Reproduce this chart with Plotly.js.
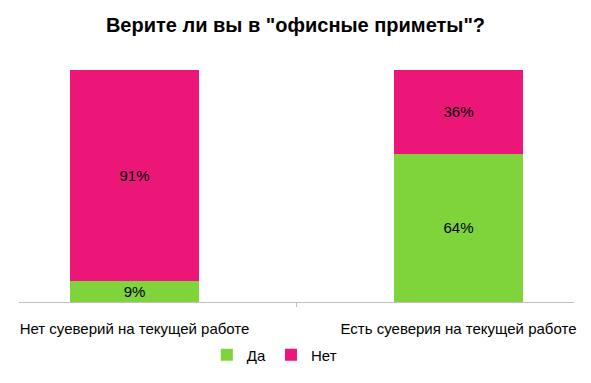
<!DOCTYPE html>
<html><head><meta charset="utf-8">
<script src="https://cdn.plot.ly/plotly-3.0.1.min.js"></script>
<style>html,body{margin:0;padding:0;background:#fff}#c{width:591px;height:383px}</style>
</head><body><div id="c"></div>
<script>
const categories = ["Нет суеверий на текущей работе", "Есть суеверия на текущей работе"];
const yesValues = [9, 64];
const noValues = [91, 36];
const seriesNames = ["Да", "Нет"];
const titleText = 'Верите ли вы в "офисные приметы"?';

const font = "Liberation Sans, Arial, sans-serif";
const xIdx = categories.map((c, i) => i);
function trace(name, vals, color) {
  return {
    type: "bar", name: name, x: xIdx, y: vals,
    marker: {color: color},
    text: vals.map(v => v + "%"), textposition: "inside", insidetextanchor: "middle",
    textfont: {color: "#000", size: 15, family: font}, constraintext: "none",
    width: 0.398, hoverinfo: "skip"
  };
}
const data = [trace(seriesNames[0], yesValues, "#7fd33b"), trace(seriesNames[1], noValues, "#ec1679")];
const layout = {
  width: 591, height: 383, barmode: "stack",
  margin: {l: 19, r: 17, t: 70, b: 81},
  paper_bgcolor: "#fff", plot_bgcolor: "#fff",
  font: {family: font, size: 15, color: "#000"},
  title: {text: "<b>" + titleText + "</b>", x: 0.5, xanchor: "center", y: 0.935, yanchor: "middle",
          font: {size: 20, family: font, color: "#000"}},
  xaxis: {type: "linear", range: [-0.3565, 1.3565], tickvals: xIdx, ticktext: categories,
          showline: true, linecolor: "#bfbfbf", linewidth: 1, ticks: "", showgrid: false, zeroline: false,
          tickfont: {size: 15, family: font, color: "#000"}, ticklabelstandoff: 13, fixedrange: true},
  yaxis: {range: [0, 100], visible: false, showgrid: false, zeroline: false, fixedrange: true},
  shapes: [{type: "line", xref: "x", yref: "paper", x0: 0.5, x1: 0.5, y0: 0, y1: -0.022,
            line: {color: "#bfbfbf", width: 1}}],
  legend: {orientation: "h", x: 0.46, xanchor: "center", y: -0.228, yanchor: "middle",
           font: {size: 15, family: font, color: "#000"}, itemwidth: 30, traceorder: "normal"},
  showlegend: true
};
Plotly.newPlot("c", data, layout, {displayModeBar: false, staticPlot: true});
</script></body></html>
